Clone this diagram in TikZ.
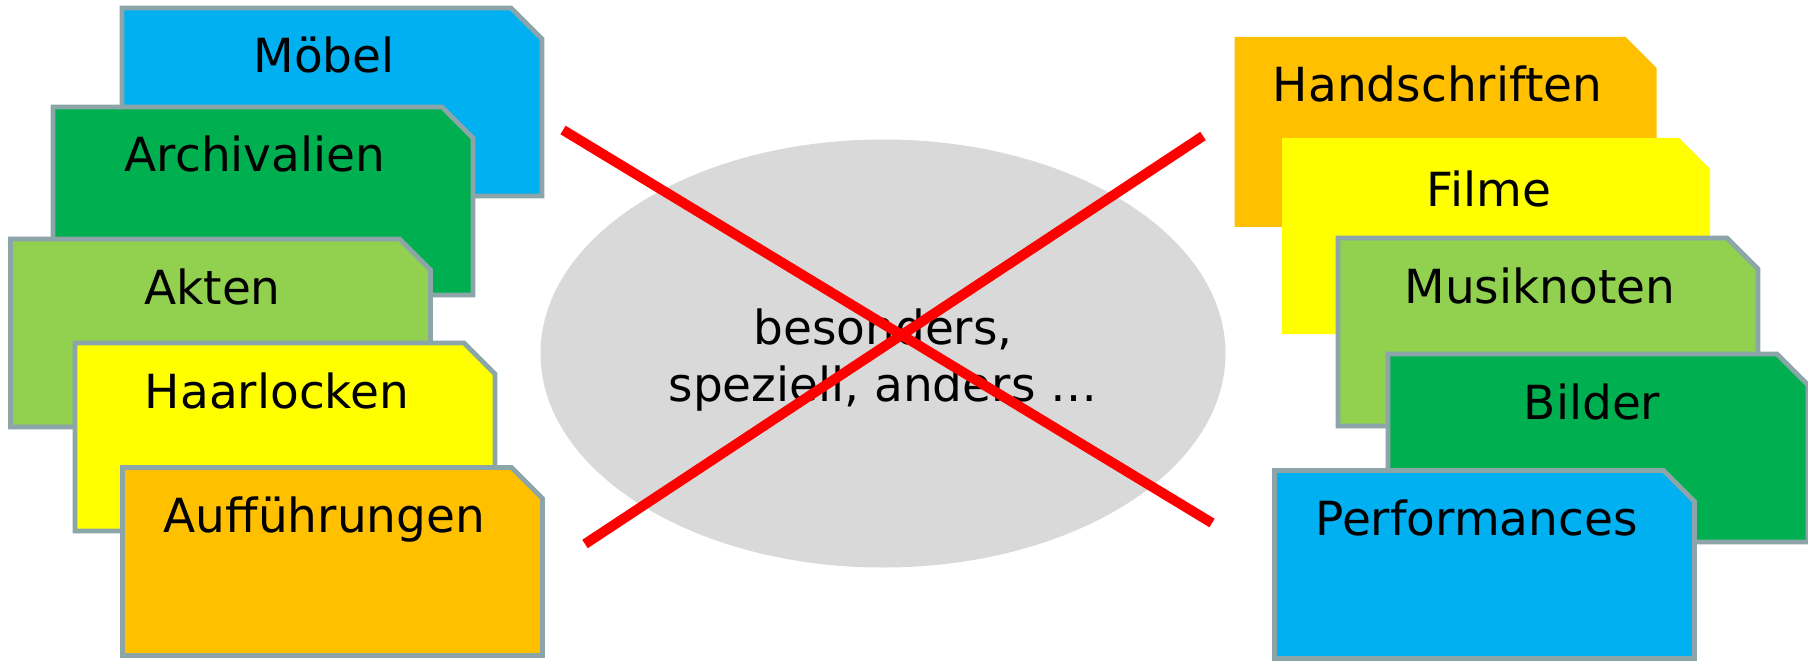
\documentclass[tikz,border=0pt]{standalone}
\usepackage{fontspec}
\setmainfont{DejaVu Sans}
\usetikzlibrary{shapes.geometric,calc}
\definecolor{cblue}{HTML}{00B0F0}
\definecolor{cgreen}{HTML}{00B050}
\definecolor{clgreen}{HTML}{92D050}
\definecolor{cyellow}{HTML}{FFFF00}
\definecolor{corange}{HTML}{FFC000}
\definecolor{cgrey}{HTML}{D9D9D9}
\definecolor{cred}{HTML}{FF0000}
\definecolor{cedge}{HTML}{8CA5A8}
% #1 name, #2 centre, #3 fill, #4 edge style, #5 width (pt), #6 height (pt)
\newcommand\mycard[6]{%
  \node[cardbox, minimum width=#5, minimum height=#6] (#1) at #2 {};
  \path[fill=#3, #4] (#1.south west) -- (#1.north west)
    -- ($(#1.north east)+(-31,0)$) -- ($(#1.north east)+(0,31)$)
    -- (#1.south east) -- cycle;
}
\begin{document}
\begin{tikzpicture}[x=0.5pt,y=-0.5pt,
  cardbox/.style={rectangle, inner sep=0pt, outer sep=0pt, draw=none},
  edged/.style={draw=cedge, line width=2.4pt, line join=miter},
  plain/.style={draw=none},
  lbl/.style={anchor=base, inner sep=0pt, font=\fontsize{23.5}{28}\selectfont},
  cross/.style={draw=cred, line width=5pt}]
\fill[white] (0,0) rectangle (1808,663);
\useasboundingbox (0,0) rectangle (1808,663);
% left column
\mycard{moebel}{(332,102)}{cblue}{edged}{210pt}{94pt}
\node[lbl] (tmoebel) at ($(moebel.north)+(-8,65)$) {Möbel};
\mycard{archiv}{(263,201)}{cgreen}{edged}{210pt}{94pt}
\node[lbl] (tarchiv) at ($(archiv.north)+(-8,65)$) {Archivalien};
\mycard{akten}{(220.5,333)}{clgreen}{edged}{210pt}{94pt}
\node[lbl] (takten) at ($(akten.north)+(-8,65)$) {Akten};
\mycard{haar}{(285,437)}{cyellow}{edged}{210pt}{94pt}
\node[lbl] (thaar) at ($(haar.north)+(-8,65)$) {Haarlocken};
\mycard{auff}{(332.5,561.5)}{corange}{edged}{210pt}{94pt}
\node[lbl] (tauff) at ($(auff.north)+(-8,65)$) {Aufführungen};
% right column
\mycard{hand}{(1445.5,132)}{corange}{plain}{211pt}{95pt}
\node[lbl] (thand) at ($(hand.north)+(-8,65)$) {Handschriften};
\mycard{filme}{(1496,236)}{cyellow}{plain}{214pt}{98pt}
\node[lbl] (tfilme) at ($(filme.north)+(-7,68)$) {Filme};
\mycard{musik}{(1548,332)}{clgreen}{edged}{210pt}{94pt}
\node[lbl] (tmusik) at ($(musik.north)+(-8,65)$) {Musiknoten};
\mycard{bilder}{(1598,448)}{cgreen}{edged}{210pt}{94pt}
\node[lbl] (tbilder) at ($(bilder.north)+(-6,65)$) {Bilder};
\mycard{perf}{(1484.5,564.5)}{cblue}{edged}{210pt}{94pt}
\node[lbl] (tperf) at ($(perf.north)+(-8,65)$) {Performances};
% centre
\node[ellipse, fill=cgrey, minimum width=342.5pt, minimum height=214pt, inner sep=0pt] (oval) at (883,353.5) {};
\node[align=center, inner sep=0pt, font=\fontsize{23.5}{28.5}\selectfont] (otext) at (883,360) {besonders,\\speziell, anders …};
\coordinate (a1) at (563,130);
\coordinate (a2) at (1212,523);
\coordinate (b1) at (585,544);
\coordinate (b2) at (1203,136);
\draw[cross] (a1) -- (a2);
\draw[cross] (b1) -- (b2);
\end{tikzpicture}
\end{document}
